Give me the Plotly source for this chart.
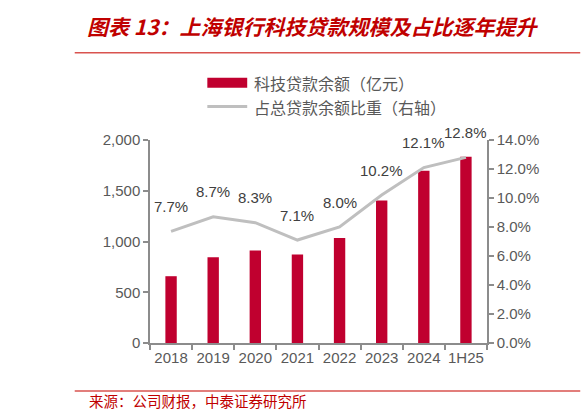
import plotly.graph_objects as go

# data
periods = ['2018', '2019', '2020', '2021', '2022', '2023', '2024', '1H25']
tech_loans = [658, 845, 911, 872, 1035, 1405, 1697, 1835]          # 亿元
loan_share = [7.7, 8.7, 8.3, 7.1, 8.0, 10.2, 12.1, 12.8]           # %
left_ticks = [0, 500, 1000, 1500, 2000]
right_ticks = [0, 2, 4, 6, 8, 10, 12, 14]

BAR_RED = '#C0002F'
LINE_GREY = '#BFBFBF'
TITLE_RED = '#C00000'
RULE_RED = '#D9534F'
AXIS_GREY = '#8C8C8C'
TEXT_GREY = '#595959'
NUM_FONT = 'Liberation Sans, Arial, sans-serif'
CJK_FONT = 'Noto Sans CJK SC, sans-serif'

# page geometry (pixels) -> paper coords helpers
W, H = 581, 419
L, R, T, B = 149.5, 93.5, 139.5, 76


def px(x):
    return (x - L) / (W - L - R)


def py(y):
    return (H - B - y) / (H - T - B)


fig = go.Figure()

# bars on left axis
fig.add_trace(go.Bar(x=periods, y=tech_loans,
                     name='科技贷款余额（亿元）',
                     marker=dict(color=BAR_RED, line=dict(width=0)),
                     yaxis='y'))

# share line on right axis
fig.add_trace(go.Scatter(x=periods, y=loan_share,
                         name='占总贷款余额比重（右轴）',
                         mode='lines',
                         line=dict(color=LINE_GREY, width=3),
                         yaxis='y2'))

# value labels above the line (category index, since '2018' would be read as a number)
for i, v in enumerate(loan_share):
    fig.add_annotation(x=i, y=v, xref='x', yref='y2', text=f'{v:.1f}%',
                       showarrow=False, yshift=25,
                       font=dict(family=NUM_FONT, size=15, color='#404040'))


def paper_text(text, x, y, size, color):
    fig.add_annotation(text=text, x=px(x), y=py(y), xref='paper', yref='paper',
                       showarrow=False, xanchor='left', yanchor='middle',
                       font=dict(family=CJK_FONT, size=size, color=color))


# title + source
paper_text('<b><i>图表 13：上海银行科技贷款规模及占比逐年提升</i></b>', 84, 25, 21, TITLE_RED)
paper_text('来源：公司财报，中泰证券研究所', 86, 401, 14.5, TITLE_RED)

# legend drawn by hand (wide swatches like the original)
paper_text('科技贷款余额（亿元）', 252, 82, 16, TEXT_GREY)
paper_text('占总贷款余额比重（右轴）', 252, 106, 16, TEXT_GREY)

fig.add_shape(type='rect', xref='paper', yref='paper',
              x0=px(207), x1=px(247), y0=py(77), y1=py(87),
              fillcolor=BAR_RED, line=dict(width=0))
fig.add_shape(type='line', xref='paper', yref='paper',
              x0=px(207), x1=px(247), y0=py(106), y1=py(106),
              line=dict(color=LINE_GREY, width=3))

# red rules under title and above source
for yy in (52, 391):
    fig.add_shape(type='line', xref='paper', yref='paper',
                  x0=px(74), x1=px(581), y0=py(yy), y1=py(yy),
                  line=dict(color=RULE_RED, width=1.5))

fig.update_layout(
    width=W, height=H,
    margin=dict(l=L, r=R, t=T, b=B, pad=0),
    paper_bgcolor='white', plot_bgcolor='white',
    showlegend=False,
    bargap=0.73,
    xaxis=dict(type='category', categoryorder='array', categoryarray=periods,
               range=[-0.5, len(periods) - 0.5],
               showline=True, linecolor=AXIS_GREY, linewidth=1.5,
               ticks='outside', tickson='boundaries', ticklen=5, tickcolor=AXIS_GREY,
               tickwidth=1.5, showgrid=False, tickangle=0,
               tickfont=dict(family=NUM_FONT, size=15, color=TEXT_GREY)),
    yaxis=dict(range=[0, 2000], tickvals=left_ticks,
               ticktext=[f'{v:,}' for v in left_ticks],
               showline=True, linecolor=AXIS_GREY, linewidth=1.5,
               ticks='outside', ticklen=5, tickcolor=AXIS_GREY, tickwidth=1.5,
               showgrid=False, zeroline=False,
               tickfont=dict(family=NUM_FONT, size=15, color=TEXT_GREY)),
    yaxis2=dict(range=[0, 14], tickvals=right_ticks,
                ticktext=[f'{v:.1f}%' for v in right_ticks],
                overlaying='y', side='right',
                showline=True, linecolor=AXIS_GREY, linewidth=1.5,
                ticks='outside', ticklen=5, tickcolor=AXIS_GREY, tickwidth=1.5,
                showgrid=False, zeroline=False,
                tickfont=dict(family=NUM_FONT, size=15, color=TEXT_GREY)),
)

# drop the default body margin so the 581x419 figure sits at the window origin
fig.write_html("out.html", config={'displayModeBar': False},
               post_script="document.body.style.margin='0';")
